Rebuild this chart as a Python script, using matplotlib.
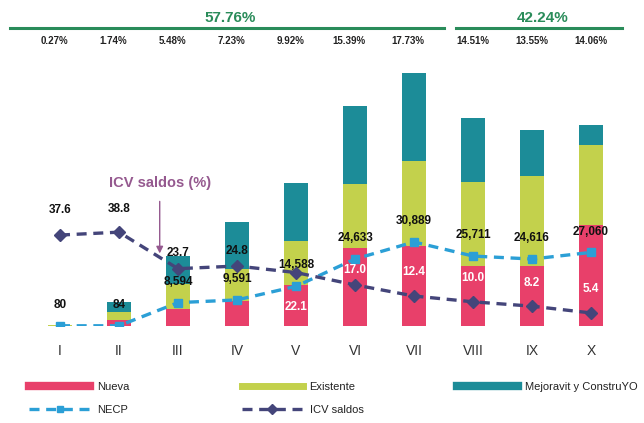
import numpy as np
import matplotlib
matplotlib.use("Agg")
import matplotlib.pyplot as plt
import matplotlib.transforms as mtransforms
from matplotlib.lines import Line2D

plt.rcParams['font.family'] = ['Liberation Sans', 'DejaVu Sans']

# Periodos
periodos = ['I', 'II', 'III', 'IV', 'V', 'VI', 'VII', 'VIII', 'IX', 'X']

# Barras apiladas (creditos)
nueva = [150, 2200, 6300, 9200, 15100, 28700, 29400, 22100, 22100, 37100]
existente = [100, 2900, 9200, 11800, 16200, 23500, 31300, 30900, 33100, 29400]
mejoravit = [250, 3700, 10300, 17300, 21300, 28700, 32400, 23500, 16900, 7400]

# Lineas
necp = [80, 84, 8594, 9591, 14588, 24633, 30889, 25711, 24616, 27060]
icv = [37.6, 38.8, 23.7, 24.8, 22.1, 17.0, 12.4, 10.0, 8.2, 5.4]

# Participacion por periodo
participacion = ['0.27%', '1.74%', '5.48%', '7.23%', '9.92%',
                 '15.39%', '17.73%', '14.51%', '13.55%', '14.06%']
grupo_izq = '57.76%'
grupo_der = '42.24%'

c_nueva = '#E8406A'
c_exist = '#C3D14C'
c_mejor = '#1C8C98'
c_necp = '#2B9FD6'
c_icv = '#44457A'
c_verde = '#2A8C5A'

fig = plt.figure(figsize=(6.44, 4.23), dpi=100)
ax = fig.add_axes([0.0, 0.2293, 1.0, 0.629])
ax2 = ax.twinx()

x = np.arange(len(periodos))
w = 0.40
b2 = np.array(nueva) + np.array(existente)
ax.bar(x, nueva, w, color=c_nueva, zorder=1)
ax.bar(x, existente, w, bottom=nueva, color=c_exist, zorder=1)
ax.bar(x, mejoravit, w, bottom=b2, color=c_mejor, zorder=1)

ax.plot(x, necp, color=c_necp, lw=2.4, ls=(0, (3, 2)), marker='s',
        ms=6, zorder=3)
ax2.plot(x, icv, color=c_icv, lw=2.4, ls=(0, (3, 2)), marker='D',
         ms=6, zorder=3)

ax.set_xlim(-60 / 59, 9 + 53 / 59)
ax.set_ylim(0, 97800)
ax2.set_ylim(0, 110)

for a in (ax, ax2):
    for s in a.spines.values():
        s.set_visible(False)
    a.set_yticks([])
ax.set_xticks(x)
ax.set_xticklabels(periodos, fontsize=10, color='#333333')
ax.tick_params(axis='x', length=0, pad=13)

# Etiquetas NECP
for xi, v in zip(x, necp):
    ax.annotate(f'{v:,}', (xi, v), xytext=(0, 15), textcoords='offset points',
                ha='center', va='center', fontsize=8.5, fontweight='bold',
                color='#111111', zorder=5)

# Etiquetas ICV
icv_dy = [18, 17, 11, 11, -25, 11, 17, 17, 17, 17]
icv_col = ['#111111'] * 4 + ['white'] * 6
for xi, v, dy, c in zip(x, icv, icv_dy, icv_col):
    ax2.annotate(f'{v:.1f}', (xi, v), xytext=(0, dy), textcoords='offset points',
                 ha='center', va='center', fontsize=8.5, fontweight='bold',
                 color=c, zorder=5)

ax2.annotate('ICV saldos (%)', xy=(1.69, 30.0), xytext=(1.69, 59),
             ha='center', va='center', fontsize=10.5, fontweight='bold',
             color='#95598F',
             arrowprops=dict(arrowstyle='-|>', color='#95598F', lw=1.0,
                             shrinkA=6, shrinkB=0, mutation_scale=10))

# Encabezado con participaciones
trans = mtransforms.blended_transform_factory(ax.transData, fig.transFigure)
for xi, p in zip(x, participacion):
    dx = -0.1 if xi < 7 else 0.0
    fig.text(xi + dx, 0.903, p, transform=trans, ha='center', va='center',
             fontsize=7, fontweight='bold', color='#222222')

fig.add_artist(Line2D([0.016, 0.689], [0.934, 0.934], color=c_verde, lw=2.2))
fig.add_artist(Line2D([0.708, 0.966], [0.934, 0.934], color=c_verde, lw=2.2))
fig.text(0.357, 0.957, grupo_izq, ha='center', va='center', fontsize=11,
         fontweight='bold', color=c_verde)
fig.text(0.842, 0.957, grupo_der, ha='center', va='center', fontsize=11,
         fontweight='bold', color=c_verde)

# Leyenda
h_nueva = Line2D([], [], color=c_nueva, lw=6)
h_exist = Line2D([], [], color=c_exist, lw=5)
h_mejor = Line2D([], [], color=c_mejor, lw=6)
h_necp = Line2D([], [], color=c_necp, lw=2.4, ls=(0, (3, 2)), marker='s', ms=5)
h_icv = Line2D([], [], color=c_icv, lw=2.4, ls=(0, (3, 2)), marker='D', ms=5)

kw = dict(frameon=False, fontsize=8, handlelength=5.5, handletextpad=0.6,
          labelspacing=1.15, numpoints=1, loc='upper left', labelcolor='#222222')
fig.legend([h_nueva, h_necp], ['Nueva', 'NECP'],
           bbox_to_anchor=(0.03, 0.12), **kw)
fig.legend([h_exist, h_icv], ['Existente', 'ICV saldos'],
           bbox_to_anchor=(0.36, 0.12), **kw)
fig.legend([h_mejor], ['Mejoravit y ConstruYO'],
           bbox_to_anchor=(0.694, 0.12), **kw)

fig.savefig('out.png', dpi=100)
